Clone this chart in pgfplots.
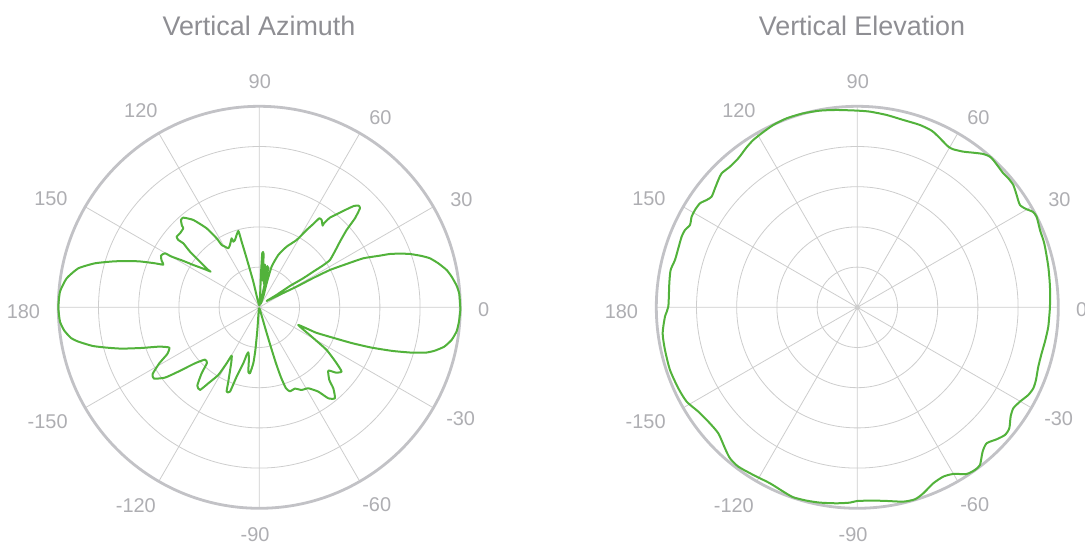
\documentclass[border=0pt]{standalone}
\usepackage{fontspec}
\setmainfont{Liberation Sans}
\usepackage{pgfplots}
\pgfplotsset{compat=1.18}
\usepgfplotslibrary{polar}

\definecolor{curve}{HTML}{52B23B}
\definecolor{rim}{HTML}{C2C2C6}
\definecolor{gridc}{HTML}{CDCDCD}
\definecolor{ticktext}{HTML}{AEAEB2}
\definecolor{titletext}{HTML}{8E8E93}

% offsets of each angle label from the rim point (px)
\def\lbldx{{23.5,28.1,20.7,0.5,-18,-34.4,-35,-37.7,-23,-4.3,17,27.4}}
\def\lbldy{{-2.7,7.6,15.7,25,22.4,8.3,-4.5,-13.5,-24.1,-26.7,-23.6,-10.7}}

% radius 603 = outer ring, rings every 120.6
\pgfplotsset{
  radar/.style={
    width=402bp, height=402bp, scale only axis,
    anchor=origin,
    xmin=0, xmax=360, ymin=0, ymax=603,
    xtick={0,30,...,330},
    xticklabels={0,30,60,90,120,150,180,-150,-120,-90,-60,-30},
    ytick={6,120.6,241.2,361.8,482.4},
    yticklabels={},
    grid=major,
    major grid style={draw=gridc, line width=0.8bp},
    separate axis lines,
    x axis line style={draw=rim, line width=2.8bp},
    y axis line style={draw=none},
    major tick length=0pt,
    tick style={draw=none},
    xticklabel style={font=\fontsize{20}{24}\selectfont, text=ticktext,
      anchor=center, inner sep=0pt,
      xshift={\lbldx[\ticknum]}, yshift={\lbldy[\ticknum]}},
    clip=false,
  },
  pattern/.style={curve, line width=2bp, no markers, data cs=cart, line join=round},
}

\begin{document}
\begin{tikzpicture}
\useasboundingbox (0,0) rectangle (1085bp,544bp);

\node[anchor=base, font=\fontsize{27}{32}\selectfont, text=titletext] at (259bp,508.3bp) {Vertical Azimuth};
\node[anchor=base, font=\fontsize{27}{32}\selectfont, text=titletext] at (862bp,508.3bp) {Vertical Elevation};

% azimuth
\begin{polaraxis}[radar, at={(259.3bp,236.7bp)}]
\addplot[pattern, smooth, tension=0.3] coordinates {
(603,0) (600,40) (592,65) (577,92) (562,112) (537,132) (512,147) (487,154)
(452,160) (422,161) (392,160) (362,155) (312,147) (262,130) (212,112)
(162,88) (112,62) (70,42) (22,19)
(50,36) (92,64) (130,86) (162,107) (190,125) (212,142) (230,174) (242,197)
(262,232) (287,267) (302,297) (298,305) (284,304) (262,294) (242,284)
(212,269) (194,252) (190,245) (187,262) (180,267) (162,250) (142,232)
(112,202) (82,182) (57,157) (37,122) (22,72) (12,32) (4,12)
(27,120) (18,70) (24,124) (14,70) (17,128) (10,80) (13,160) (9,163) (5,100) (1,8)
(-4,18) (-18,77) (-38,147) (-53,197) (-63,229)
(-73,202) (-78,197) (-83,207) (-88,187) (-93,177) (-103,182) (-113,187)
(-128,207) (-158,237) (-198,262) (-228,269) (-235,262) (-232,245) (-228,237)
(-238,222) (-248,212) (-243,202) (-228,192) (-208,167) (-178,137) (-153,112)
(-146,107) (-163,114) (-198,127) (-230,140) (-263,152) (-283,162) (-295,155)
(-293,140) (-288,128) (-313,132) (-363,138) (-433,138) (-493,132) (-543,117)
(-578,87) (-598,47) (-603,0)
(-598,-43) (-585,-70) (-565,-92) (-543,-103) (-500,-116) (-458,-121)
(-413,-124) (-353,-122) (-300,-118) (-270,-121) (-276,-140) (-300,-168)
(-320,-200) (-316,-214) (-283,-211) (-243,-193) (-193,-168) (-163,-157)
(-157,-167) (-173,-198) (-186,-235) (-178,-248) (-153,-228) (-123,-203)
(-98,-168) (-83,-145) (-84,-165) (-93,-223) (-98,-253) (-88,-253) (-68,-208)
(-48,-168) (-38,-143) (-33,-135) (-31,-153) (-33,-193) (-28,-198) (-18,-168)
(-12,-130) (-6,-70) (-1,-3)
(5,-18) (20,-70) (35,-120) (50,-168) (65,-210) (80,-243) (92,-252)
(107,-244) (127,-248) (147,-243) (177,-253) (207,-273) (227,-273)
(222,-243) (210,-218) (207,-190) (230,-196) (247,-193) (232,-168)
(202,-128) (157,-88) (117,-53)
(170,-76) (227,-93) (280,-108) (337,-121) (400,-131) (457,-136) (500,-136)
(527,-130) (555,-118) (577,-98) (592,-72) (599,-43) (603,-10) (603,0)
};
\end{polaraxis}

% elevation
\begin{polaraxis}[radar, at={(857.3bp,236.7bp)}]
\addplot[pattern, smooth, tension=0.4] coordinates {
(578,0) (578,62) (573,122) (563,182) (558,202) (548,232) (538,272) (526,287)
(508,294) (488,307) (478,337) (468,367) (453,387) (438,402) (423,422)
(408,442) (398,452) (378,460) (348,464) (318,467) (288,474) (273,482)
(253,502) (238,517) (223,530) (188,547) (138,562) (88,577) (38,587) (0,590)
(-62,592) (-112,590) (-162,582) (-212,567) (-252,547) (-287,522) (-312,502)
(-332,480) (-357,447) (-382,422) (-407,402) (-417,382) (-427,357) (-437,332)
(-452,322) (-472,312) (-487,292) (-497,272) (-502,247) (-517,232) (-527,212)
(-537,177) (-547,142) (-560,112) (-564,72) (-567,2) (-577,-28) (-584,-78)
(-577,-128) (-562,-188) (-537,-243) (-512,-283) (-477,-313) (-447,-343)
(-417,-378) (-397,-423) (-382,-453) (-357,-478) (-312,-503) (-262,-528)
(-222,-553) (-192,-570) (-152,-580) (-112,-586) (-62,-588) (-22,-586)
(0,-581) (48,-580) (88,-581) (138,-583) (173,-576) (198,-558) (228,-528)
(258,-508) (288,-500) (328,-500) (353,-488) (368,-473) (376,-433) (388,-408)
(418,-396) (443,-383) (456,-363) (460,-328) (468,-303) (488,-283) (513,-263)
(528,-243) (536,-218) (543,-178) (553,-138) (563,-103) (573,-58) (578,0)
};
\end{polaraxis}
\end{tikzpicture}
\end{document}
